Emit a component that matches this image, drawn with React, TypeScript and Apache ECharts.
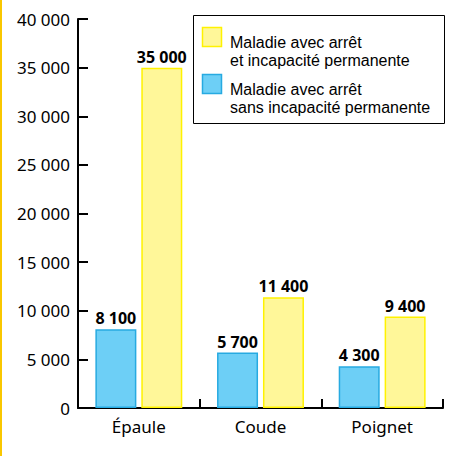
import React, { useEffect, useRef } from "react";
import * as echarts from "echarts";

const categories = ["Épaule", "Coude", "Poignet"];
const sansIncapacite = [8100, 5700, 4300];
const avecIncapacite = [35000, 11400, 9400];
const legendLabels = [
  ["Maladie avec arrêt", "et incapacité permanente"],
  ["Maladie avec arrêt", "sans incapacité permanente"],
];

const FONT = "Noto Sans";
const LEGEND_FONT = "Liberation Sans";
const fmt = (v: number) => String(v).replace(/\B(?=(\d{3})+(?!\d))/g, " ");

export default function App() {
  const ref = useRef<HTMLDivElement>(null);
  useEffect(() => {
    if (!ref.current) return;
    const chart = echarts.init(ref.current, undefined, { renderer: "svg" });
    const label = {
      show: true,
      position: "top" as const,
      distance: 3,
      fontFamily: FONT,
      fontWeight: "bold" as const,
      fontSize: 16,
      color: "#000",
      formatter: (p: any) => fmt(p.value),
    };
    const legendText = (lines: string[], yBase: number) =>
      lines.map((t, i) => ({
        type: "text",
        x: 230,
        y: yBase + i * 18,
        style: {
          text: t,
          fontFamily: LEGEND_FONT,
          fontSize: 16,
          fill: "#000",
          verticalAlign: "bottom",
          lineHeight: 16,
        },
      }));
    chart.setOption({
      animation: false,
      backgroundColor: "#fff",
      grid: { left: 78, right: 9, top: 19, bottom: 48, containLabel: false },
      xAxis: {
        type: "category",
        data: categories,
        axisLine: { lineStyle: { color: "#000", width: 2 } },
        axisTick: { show: true, inside: true, length: 9, lineStyle: { color: "#000", width: 2 } },
        axisLabel: { fontFamily: FONT, fontSize: 17, color: "#000", margin: 10 },
      },
      yAxis: {
        type: "value",
        min: 0,
        max: 40000,
        interval: 5000,
        axisLine: { show: true, lineStyle: { color: "#000", width: 2 } },
        axisTick: { show: true, inside: true, length: 10, lineStyle: { color: "#000", width: 2 } },
        splitLine: { show: false },
        axisLabel: { fontFamily: FONT, fontSize: 17, color: "#000", margin: 8, formatter: (v: number) => fmt(v) },
      },
      series: [
        {
          name: "Maladie avec arrêt sans incapacité permanente",
          type: "bar",
          data: sansIncapacite,
          barWidth: 41,
          barGap: "12%",
          itemStyle: { color: "#6dcff6", borderColor: "#27aae1", borderWidth: 1.5 },
          label,
        },
        {
          name: "Maladie avec arrêt et incapacité permanente",
          type: "bar",
          data: avecIncapacite,
          barWidth: 41,
          barGap: "12%",
          itemStyle: { color: "#fff799", borderColor: "#fff200", borderWidth: 1.5 },
          label,
        },
      ],
      graphic: [
        { type: "rect", shape: { x: 0, y: 0, width: 2, height: 456 }, style: { fill: "#f9c700" }, silent: true },
        {
          type: "rect",
          shape: { x: 193.5, y: 15.5, width: 251, height: 108 },
          style: { fill: "#fff", stroke: "#000", lineWidth: 1 },
        },
        {
          type: "rect",
          shape: { x: 202.5, y: 27.5, width: 19, height: 19 },
          style: { fill: "#fff799", stroke: "#fff200", lineWidth: 1.5 },
        },
        ...legendText(legendLabels[0], 50),
        {
          type: "rect",
          shape: { x: 202.5, y: 74.5, width: 19, height: 19 },
          style: { fill: "#6dcff6", stroke: "#27aae1", lineWidth: 1.5 },
        },
        ...legendText(legendLabels[1], 97.5),
      ],
    });
    return () => chart.dispose();
  }, []);
  return (
    <div
      ref={ref}
      style={{ position: "fixed", left: 0, top: 0, width: 452, height: 456 }}
    />
  );
}
